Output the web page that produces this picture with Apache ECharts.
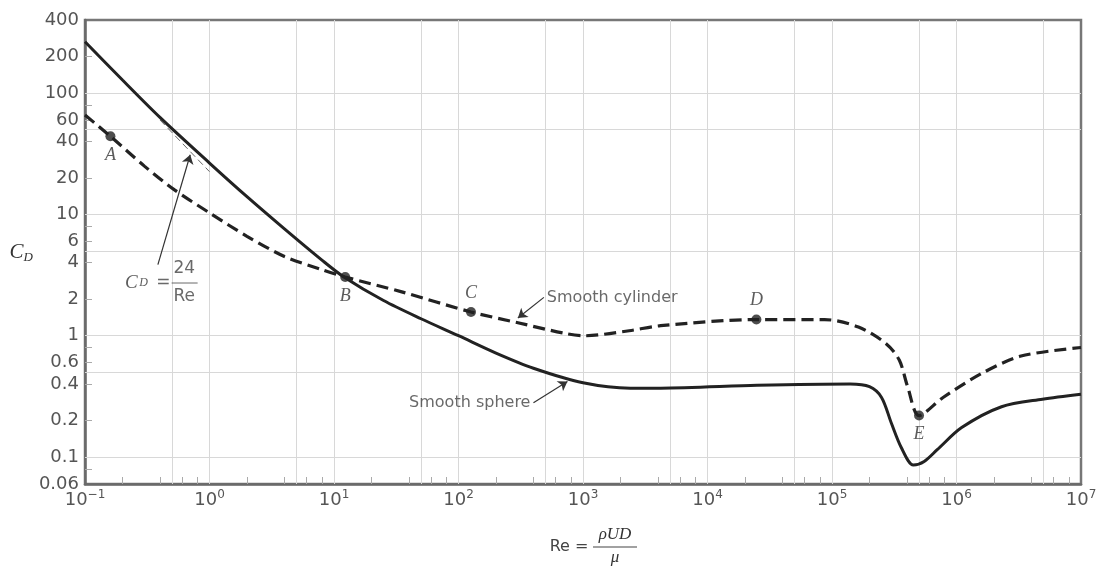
<!DOCTYPE html>
<html>
<head>
<meta charset="UTF-8">
<title>Drag coefficient of smooth sphere and cylinder</title>
<script type="text/javascript" src="https://cdn.jsdelivr.net/npm/echarts@6.0.0/dist/echarts.min.js"></script>
<style>
html, body { margin: 0; padding: 0; background: #fff; }
#main { width: 1096px; height: 568px; }
</style>
</head>
<body>
<div id="main"></div>
<script type="text/javascript">
// values: Reynolds number and drag coefficient
var sphereRe = [0.1, 0.2, 0.4, 1, 2, 4, 8, 12, 25, 50, 100, 200, 400, 1000, 2400, 4200, 25000, 140000, 200000, 250000, 300000, 360000, 450000, 550000, 700000, 1.1e6, 2.3e6, 4.9e6, 1e7];
var sphereCd = [265, 128, 63, 26.5, 14, 7.6, 4.2, 3.05, 1.95, 1.38, 1.0, 0.72, 0.54, 0.41, 0.37, 0.37, 0.39, 0.40, 0.38, 0.31, 0.19, 0.12, 0.086, 0.092, 0.115, 0.175, 0.26, 0.30, 0.33];

var cylRe = [0.1, 0.16, 0.3, 0.52, 1, 2, 4, 8, 12.3, 35, 126, 300, 700, 1040, 2350, 4200, 24700, 87000, 163000, 272000, 347000, 405000, 500000, 780000, 1.6e6, 3.3e6, 1e7];
var cylCd = [66, 44, 25, 16, 10.3, 6.6, 4.5, 3.5, 3.05, 2.3, 1.57, 1.28, 1.05, 1.0, 1.1, 1.21, 1.36, 1.36, 1.18, 0.86, 0.63, 0.38, 0.22, 0.31, 0.49, 0.68, 0.80];

var stokesRe = [0.4, 1.0];
var stokesCd = [60, 22.5];

var pointNames = ['A', 'B', 'C', 'D', 'E'];
var pointRe = [0.16, 12.3, 126, 24700, 500000];
var pointCd = [44, 3.05, 1.57, 1.36, 0.22];
var pointLabelPos = ['bottom', 'bottom', 'top', 'top', 'bottom'];

var xTickExp = [-1, 0, 1, 2, 3, 4, 5, 6, 7];
var yTickLabels = [400, 200, 100, 60, 40, 20, 10, 6, 4, 2, 1, 0.6, 0.4, 0.2, 0.1, 0.06];
var xGrid = [0.5, 1, 5, 10, 50, 100, 500, 1000, 5000, 1e4, 5e4, 1e5, 5e5, 1e6, 5e6];
var yGrid = [0.1, 0.5, 1, 5, 10, 50, 100];
var minorMant = [2, 4, 6, 8];

var lg = Math.log10;
var yMin = 0.06, yMax = 400;

function pairs(xs, ys) {
    return xs.map(function (x, i) { return [lg(x), lg(ys[i])]; });
}

var xMinor = [];
for (var e = -1; e < 7; e++) {
    minorMant.forEach(function (m) { xMinor.push(lg(m * Math.pow(10, e))); });
}
var yMinor = [];
for (var e2 = -2; e2 < 3; e2++) {
    minorMant.forEach(function (m) {
        var v = m * Math.pow(10, e2);
        if (v > yMin && v < yMax) yMinor.push(lg(v));
    });
}

var gridLines = xGrid.map(function (v) { return { xAxis: lg(v) }; })
    .concat(yGrid.map(function (v) { return { yAxis: lg(v) }; }));

var labelColor = '#555';
var serif = 'Liberation Serif';
var sans = 'DejaVu Sans';

var myChart = echarts.init(document.getElementById('main'), null, { renderer: 'canvas' });

var option = {
    backgroundColor: '#fff',
    animation: false,
    grid: {
        left: 85, right: 15, top: 20, bottom: 84,
        outerBoundsMode: 'none',
        show: true, borderColor: '#777', borderWidth: 2.5, backgroundColor: 'transparent'
    },
    xAxis: {
        type: 'value',
        min: -1, max: 7, interval: 1,
        axisLine: { show: true, onZero: false, lineStyle: { color: '#6a6a6a', width: 2.5 } },
        axisTick: { show: true, inside: true, length: 7, customValues: xMinor, lineStyle: { color: '#aaa', width: 1 } },
        splitLine: { show: false },
        axisLabel: {
            customValues: xTickExp,
            margin: 5,
            formatter: function (v) {
                var n = Math.round(v);
                return '{b|10}{s|' + (n < 0 ? '\u2212' + (-n) : n) + '}';
            },
            rich: {
                b: { fontSize: 18, fontFamily: sans, color: labelColor, lineHeight: 22 },
                s: { fontSize: 12, fontFamily: sans, color: labelColor, lineHeight: 12, verticalAlign: 'top' }
            }
        },
        name: '{sp|}{num|\u03C1UD}\n{re|Re =}{bar|}\n{sp|}{den|\u03BC}',
        nameLocation: 'middle',
        nameGap: 42,
        nameMoveOverlap: false,
        nameTextStyle: {
            padding: [0, 0, 0, 16],
            rich: {
                sp: { width: 48 },
                re: { width: 48, fontSize: 16, fontFamily: sans, color: '#444', lineHeight: 6, verticalAlign: 'middle' },
                num: { width: 44, align: 'center', fontSize: 17, fontFamily: serif, fontStyle: 'italic', color: '#333', lineHeight: 18 },
                bar: { width: 44, height: 1, backgroundColor: '#444', verticalAlign: 'middle' },
                den: { width: 44, align: 'center', fontSize: 17, fontFamily: serif, fontStyle: 'italic', color: '#333', lineHeight: 16 }
            }
        }
    },
    yAxis: {
        type: 'value',
        min: lg(yMin), max: lg(yMax),
        axisLine: { show: true, onZero: false, lineStyle: { color: '#6a6a6a', width: 2.5 } },
        axisTick: { show: true, inside: true, length: 7, customValues: yMinor, lineStyle: { color: '#aaa', width: 1 } },
        splitLine: { show: false },
        axisLabel: {
            customValues: yTickLabels.map(lg),
            margin: 6,
            fontSize: 18,
            lineHeight: 18,
            fontFamily: sans,
            color: labelColor,
            formatter: function (v) { return String(+Math.pow(10, v).toPrecision(2)); }
        },
        name: '{c|C}{d|D}',
        nameLocation: 'middle',
        nameRotate: 0,
        nameGap: 52,
        nameMoveOverlap: false,
        nameTextStyle: {
            rich: {
                c: { fontSize: 21, fontFamily: serif, fontStyle: 'italic', color: '#333', lineHeight: 24 },
                d: { fontSize: 13, fontFamily: serif, fontStyle: 'italic', color: '#333', lineHeight: 13, verticalAlign: 'bottom' }
            }
        }
    },
    series: [
        {
            name: 'grid',
            type: 'line',
            data: [],
            silent: true,
            markLine: {
                z: 1,
                silent: true,
                symbol: 'none',
                label: { show: false },
                emphasis: { disabled: true },
                lineStyle: { color: '#d8d8d8', width: 1, type: 'solid' },
                data: gridLines
            }
        },
        {
            name: 'Smooth sphere',
            type: 'line',
            z: 3,
            data: pairs(sphereRe, sphereCd),
            showSymbol: false,
            smooth: 0.3,
            lineStyle: { color: '#222', width: 3 }
        },
        {
            name: 'Smooth cylinder',
            type: 'line',
            z: 3,
            data: pairs(cylRe, cylCd),
            showSymbol: false,
            smooth: 0.3,
            lineStyle: { color: '#222', width: 3.2, type: [12, 6] }
        },
        {
            name: 'CD = 24/Re',
            type: 'line',
            z: 3,
            data: pairs(stokesRe, stokesCd),
            showSymbol: false,
            lineStyle: { color: '#666', width: 1, type: [7, 4] }
        },
        {
            name: 'points',
            type: 'scatter',
            z: 4,
            symbolSize: 10,
            itemStyle: { color: '#222' },
            data: pointNames.map(function (n, i) {
                return {
                    name: n,
                    value: [lg(pointRe[i]), lg(pointCd[i])],
                    label: { position: pointLabelPos[i] }
                };
            }),
            label: {
                show: true,
                formatter: '{b}',
                distance: 5,
                fontFamily: serif,
                fontStyle: 'italic',
                fontSize: 18,
                color: '#333'
            }
        },
        {
            name: 'notes',
            type: 'scatter',
            z: 4,
            symbolSize: 0,
            silent: true,
            data: [
                {
                    value: [lg(485), lg(2.07)],
                    label: { show: true, position: 'right', distance: 3, formatter: 'Smooth cylinder' }
                },
                {
                    value: [lg(400), lg(0.28)],
                    label: { show: true, position: 'left', distance: 3, formatter: 'Smooth sphere' }
                },
                {
                    value: [lg(0.41), lg(2.72)],
                    label: {
                        show: true, position: 'inside',
                        formatter: '{sp|}{num|24}\n{c|C}{d|D}{eq| =}{bar|}\n{sp|}{den|Re}',
                        rich: {
                            sp: { width: 46 },
                            c: { fontSize: 19, fontFamily: serif, fontStyle: 'italic', color: '#333', lineHeight: 12, verticalAlign: 'middle' },
                            d: { fontSize: 12, fontFamily: serif, fontStyle: 'italic', color: '#333', lineHeight: 6, verticalAlign: 'bottom', width: 12 },
                            eq: { fontSize: 17, fontFamily: sans, color: '#444', width: 22, lineHeight: 12, verticalAlign: 'middle' },
                            bar: { width: 26, height: 1, backgroundColor: '#444', verticalAlign: 'middle' },
                            num: { width: 26, align: 'center', fontSize: 17, fontFamily: sans, color: '#444', lineHeight: 15 },
                            den: { width: 26, align: 'center', fontSize: 17, fontFamily: sans, color: '#444', lineHeight: 15 }
                        }
                    }
                }
            ],
            label: { fontFamily: sans, fontSize: 16, color: '#444' },
            markLine: {
                silent: true,
                symbol: ['none', 'arrow'],
                symbolSize: 9,
                label: { show: false },
                emphasis: { disabled: true },
                lineStyle: { color: '#333', width: 1.2, type: 'solid' },
                data: [
                    [{ coord: [lg(485), lg(2.07)] }, { coord: [lg(300), lg(1.4)] }],
                    [{ coord: [lg(400), lg(0.28)] }, { coord: [lg(750), lg(0.42)] }],
                    [{ coord: [lg(0.385), lg(3.85)] }, { coord: [lg(0.7), lg(31)] }]
                ]
            }
        }
    ]
};

myChart.setOption(option);
</script>
</body>
</html>
